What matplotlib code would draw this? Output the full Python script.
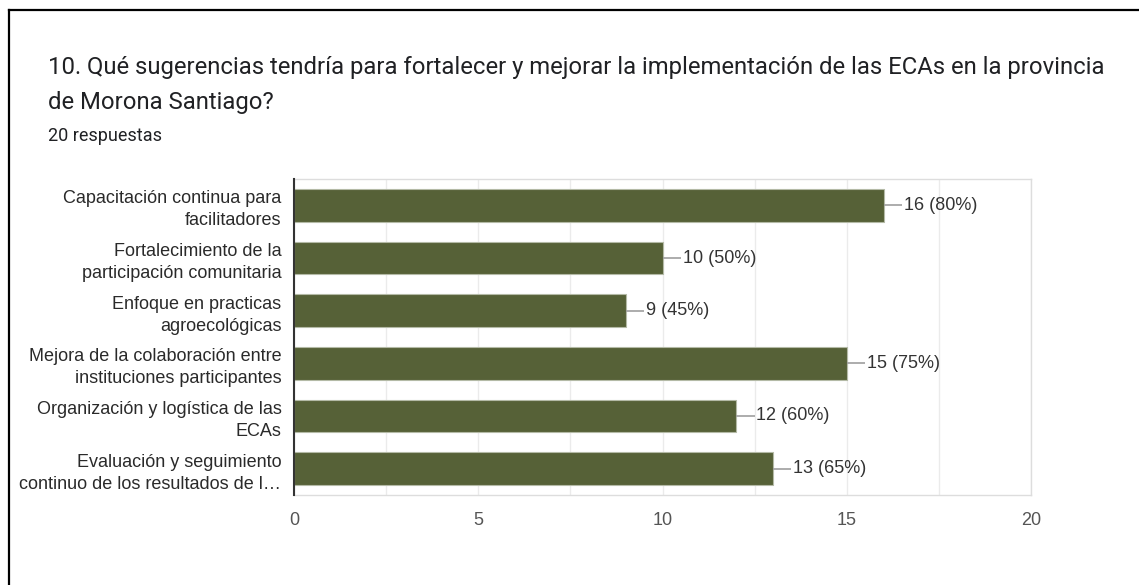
import matplotlib
matplotlib.use("Agg")
import matplotlib.pyplot as plt
from matplotlib.lines import Line2D

plt.rcParams['font.family'] = ['Roboto', 'DejaVu Sans']
chart_font = ['Liberation Sans', 'DejaVu Sans']

categories = [
    "Capacitación continua para\nfacilitadores",
    "Fortalecimiento de la\nparticipación comunitaria",
    "Enfoque en practicas\nagroecológicas",
    "Mejora de la colaboración entre\ninstituciones participantes",
    "Organización y logística de las\nECAs",
    "Evaluación y seguimiento\ncontinuo de los resultados de l…",
]
counts = [16, 10, 9, 15, 12, 13]
percents = [80, 50, 45, 75, 60, 65]
xticks = [0, 5, 10, 15, 20]

W, H = 1139, 585
fig = plt.figure(figsize=(W / 100, H / 100), dpi=100)
fig.patch.set_facecolor('white')

ax = fig.add_axes([294 / W, 1 - 495 / H, (1031 - 294) / W, (495 - 179) / H])

y = list(range(len(categories)))
ax.barh(y, counts, height=0.62, color='#566137', edgecolor='#b4baa6', linewidth=0.8, zorder=3)
ax.set_ylim(len(categories) - 0.5, -0.5)
ax.set_xlim(0, 20)

for i, (c, p) in enumerate(zip(counts, percents)):
    ax.plot([c, c + 0.5], [i, i], color='#9e9e9e', linewidth=1.2, zorder=4, solid_capstyle='butt')
    ax.text(c + 0.55, i, f"{c} ({p}%)", va='center', ha='left', fontsize=13, color='#333333',
            zorder=5, family=chart_font)

ax.set_xticks(xticks)
ax.set_xticks([k + 2.5 for k in xticks[:-1]], minor=True)
ax.set_xticklabels([str(t) for t in xticks], fontsize=13, color='#555555', family=chart_font)
ax.tick_params(axis='x', length=0, pad=12, which='both')
ax.set_yticks(y)
ax.set_yticklabels(categories, fontsize=13, color='#2a2a2a', linespacing=1.38, family=chart_font)
ax.tick_params(axis='y', length=0, pad=9)
ax.grid(axis='x', which='both', color='#ebebeb', linewidth=1, zorder=0)
for s in ['top', 'right', 'bottom']:
    ax.spines[s].set_color('#dddddd')
    ax.spines[s].set_linewidth(1)
ax.spines['left'].set_color('#333333')
ax.spines['left'].set_linewidth(1.5)
ax.spines['left'].set_zorder(6)

fig.text(48 / W, 1 - 74 / H, "10. Qué sugerencias tendría para fortalecer y mejorar la implementación de las ECAs en la provincia",
         fontsize=17.2, color='#202124', va='baseline', ha='left')
fig.text(48 / W, 1 - 109 / H, "de Morona Santiago?", fontsize=17.2, color='#202124', va='baseline', ha='left')
fig.text(48 / W, 1 - 141 / H, "20 respuestas", fontsize=13, color='#202124', va='baseline', ha='left')

fig.add_artist(Line2D([9 / W, 1], [1 - 10 / H, 1 - 10 / H], color='black', linewidth=1.6, transform=fig.transFigure))
fig.add_artist(Line2D([9 / W, 9 / W], [1 - 10 / H, 0], color='black', linewidth=1.6, transform=fig.transFigure))

fig.savefig("out.png", dpi=100)
